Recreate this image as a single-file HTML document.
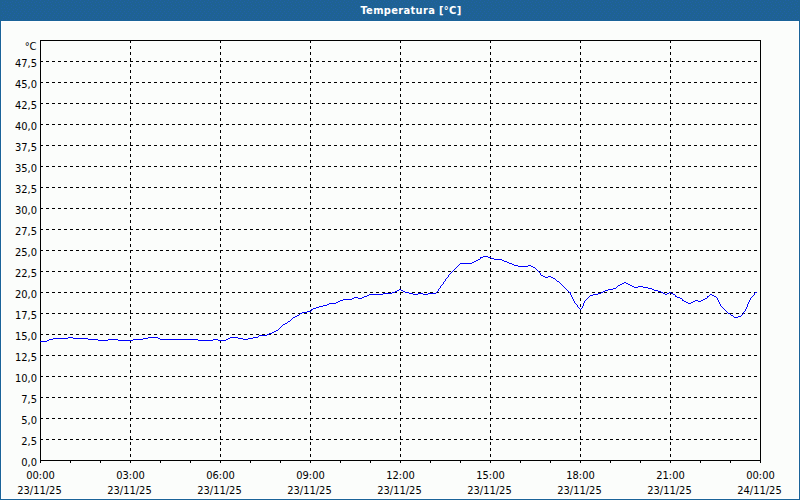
<!DOCTYPE html>
<html><head><meta charset="utf-8"><title>Temperatura</title>
<style>
html,body{margin:0;padding:0;width:800px;height:500px;overflow:hidden;background:#fbfdfb;}
#win{position:absolute;left:0;top:0;width:800px;height:500px;}
svg{position:absolute;left:0;top:0;}
</style></head><body>
<div id="win">
<svg width="800" height="500" viewBox="0 0 800 500">
<rect x="0" y="0" width="800" height="500" fill="#fbfdfb"/>
<rect x="0" y="0" width="800" height="20" fill="#1e6293"/>
<defs><pattern id="dith" x="0" y="0" width="8" height="20" patternUnits="userSpaceOnUse"><g fill="#2060aa"><rect x="0" y="0" width="1" height="1"/><rect x="4" y="1" width="1" height="1"/><rect x="2" y="2" width="1" height="1"/><rect x="7" y="2" width="1" height="1"/><rect x="3" y="4" width="1" height="1"/><rect x="0" y="5" width="1" height="1"/><rect x="5" y="5" width="1" height="1"/><rect x="3" y="7" width="1" height="1"/><rect x="7" y="8" width="1" height="1"/><rect x="1" y="9" width="1" height="1"/><rect x="5" y="9" width="1" height="1"/><rect x="0" y="11" width="1" height="1"/><rect x="4" y="11" width="1" height="1"/><rect x="2" y="13" width="1" height="1"/><rect x="6" y="13" width="1" height="1"/><rect x="1" y="15" width="1" height="1"/><rect x="5" y="15" width="1" height="1"/><rect x="0" y="17" width="1" height="1"/><rect x="4" y="17" width="1" height="1"/><rect x="2" y="19" width="1" height="1"/><rect x="6" y="19" width="1" height="1"/></g></pattern></defs>
<rect x="0" y="0" width="800" height="20" fill="url(#dith)" shape-rendering="crispEdges"/>
<rect x="0" y="0" width="9" height="20" fill="#1e6293"/><rect x="784" y="0" width="16" height="20" fill="#1e6293"/><g fill="#2060aa" shape-rendering="crispEdges"><rect x="5" y="1" width="1" height="1"/><rect x="2" y="2" width="1" height="1"/><rect x="7" y="2" width="1" height="1"/><rect x="4" y="4" width="1" height="1"/><rect x="2" y="5" width="1" height="1"/><rect x="8" y="5" width="1" height="1"/><rect x="6" y="6" width="1" height="1"/><rect x="1" y="8" width="1" height="1"/><rect x="4" y="8" width="1" height="1"/><rect x="7" y="8" width="1" height="1"/><rect x="2" y="11" width="1" height="1"/><rect x="5" y="11" width="1" height="1"/><rect x="8" y="11" width="1" height="1"/><rect x="3" y="13" width="1" height="1"/><rect x="7" y="14" width="1" height="1"/><rect x="1" y="15" width="1" height="1"/><rect x="5" y="16" width="1" height="1"/><rect x="3" y="17" width="1" height="1"/><rect x="8" y="17" width="1" height="1"/><rect x="2" y="19" width="1" height="1"/><rect x="6" y="19" width="1" height="1"/><rect x="785" y="0" width="1" height="1"/><rect x="788" y="0" width="1" height="1"/><rect x="795" y="0" width="1" height="1"/><rect x="792" y="1" width="1" height="1"/><rect x="797" y="1" width="1" height="1"/><rect x="790" y="2" width="1" height="1"/><rect x="786" y="3" width="1" height="1"/><rect x="796" y="3" width="1" height="1"/><rect x="791" y="4" width="1" height="1"/><rect x="794" y="4" width="1" height="1"/><rect x="784" y="5" width="1" height="1"/><rect x="788" y="5" width="1" height="1"/><rect x="795" y="6" width="1" height="1"/><rect x="798" y="6" width="1" height="1"/><rect x="787" y="7" width="1" height="1"/><rect x="791" y="7" width="1" height="1"/><rect x="793" y="8" width="1" height="1"/><rect x="785" y="9" width="1" height="1"/><rect x="789" y="9" width="1" height="1"/><rect x="797" y="9" width="1" height="1"/><rect x="795" y="10" width="1" height="1"/><rect x="784" y="11" width="1" height="1"/><rect x="788" y="11" width="1" height="1"/><rect x="792" y="11" width="1" height="1"/><rect x="797" y="12" width="1" height="1"/><rect x="786" y="13" width="1" height="1"/><rect x="790" y="13" width="1" height="1"/><rect x="795" y="14" width="1" height="1"/><rect x="785" y="15" width="1" height="1"/><rect x="789" y="15" width="1" height="1"/><rect x="793" y="15" width="1" height="1"/><rect x="798" y="15" width="1" height="1"/><rect x="784" y="17" width="1" height="1"/><rect x="788" y="17" width="1" height="1"/><rect x="792" y="17" width="1" height="1"/><rect x="796" y="17" width="1" height="1"/><rect x="786" y="19" width="1" height="1"/><rect x="790" y="19" width="1" height="1"/><rect x="794" y="19" width="1" height="1"/><rect x="798" y="19" width="1" height="1"/></g>
<rect x="0" y="20" width="800" height="480" fill="#1a6499"/>
<rect x="1" y="21" width="798" height="478" fill="#ffffff"/>
<rect x="2" y="22" width="796" height="476" fill="#fbfdfb"/>
<text x="411" y="14" text-anchor="middle" font-family='"DejaVu Sans", sans-serif' font-size="11" font-weight="bold" font-stretch="condensed" letter-spacing="0.33" fill="#ffffff">Temperatura [°C]</text>
<g stroke="#000" stroke-width="1" stroke-dasharray="3 3" shape-rendering="crispEdges"><line x1="40" y1="61.5" x2="760" y2="61.5"/><line x1="40" y1="82.5" x2="760" y2="82.5"/><line x1="40" y1="103.5" x2="760" y2="103.5"/><line x1="40" y1="124.5" x2="760" y2="124.5"/><line x1="40" y1="145.5" x2="760" y2="145.5"/><line x1="40" y1="166.5" x2="760" y2="166.5"/><line x1="40" y1="187.5" x2="760" y2="187.5"/><line x1="40" y1="208.5" x2="760" y2="208.5"/><line x1="40" y1="229.5" x2="760" y2="229.5"/><line x1="40" y1="250.5" x2="760" y2="250.5"/><line x1="40" y1="271.5" x2="760" y2="271.5"/><line x1="40" y1="292.5" x2="760" y2="292.5"/><line x1="40" y1="313.5" x2="760" y2="313.5"/><line x1="40" y1="334.5" x2="760" y2="334.5"/><line x1="40" y1="355.5" x2="760" y2="355.5"/><line x1="40" y1="376.5" x2="760" y2="376.5"/><line x1="40" y1="397.5" x2="760" y2="397.5"/><line x1="40" y1="418.5" x2="760" y2="418.5"/><line x1="40" y1="439.5" x2="760" y2="439.5"/><line x1="130.5" y1="40" x2="130.5" y2="460"/><line x1="220.5" y1="40" x2="220.5" y2="460"/><line x1="310.5" y1="40" x2="310.5" y2="460"/><line x1="400.5" y1="40" x2="400.5" y2="460"/><line x1="490.5" y1="40" x2="490.5" y2="460"/><line x1="580.5" y1="40" x2="580.5" y2="460"/><line x1="670.5" y1="40" x2="670.5" y2="460"/></g>
<rect x="40.5" y="40.5" width="720" height="420" fill="none" stroke="#000" stroke-width="1" shape-rendering="crispEdges"/>
<g stroke="#000" stroke-width="1" shape-rendering="crispEdges"><line x1="40.5" y1="460" x2="40.5" y2="463"/><line x1="70.5" y1="460" x2="70.5" y2="463"/><line x1="100.5" y1="460" x2="100.5" y2="463"/><line x1="130.5" y1="460" x2="130.5" y2="463"/><line x1="160.5" y1="460" x2="160.5" y2="463"/><line x1="190.5" y1="460" x2="190.5" y2="463"/><line x1="220.5" y1="460" x2="220.5" y2="463"/><line x1="250.5" y1="460" x2="250.5" y2="463"/><line x1="280.5" y1="460" x2="280.5" y2="463"/><line x1="310.5" y1="460" x2="310.5" y2="463"/><line x1="340.5" y1="460" x2="340.5" y2="463"/><line x1="370.5" y1="460" x2="370.5" y2="463"/><line x1="400.5" y1="460" x2="400.5" y2="463"/><line x1="430.5" y1="460" x2="430.5" y2="463"/><line x1="460.5" y1="460" x2="460.5" y2="463"/><line x1="490.5" y1="460" x2="490.5" y2="463"/><line x1="520.5" y1="460" x2="520.5" y2="463"/><line x1="550.5" y1="460" x2="550.5" y2="463"/><line x1="580.5" y1="460" x2="580.5" y2="463"/><line x1="610.5" y1="460" x2="610.5" y2="463"/><line x1="640.5" y1="460" x2="640.5" y2="463"/><line x1="670.5" y1="460" x2="670.5" y2="463"/><line x1="700.5" y1="460" x2="700.5" y2="463"/><line x1="730.5" y1="460" x2="730.5" y2="463"/><line x1="760.5" y1="460" x2="760.5" y2="463"/></g>
<path d="M483 256h5v1h-5zM480 257h3v1h-3zM488 257h3v1h-3zM480 258h1v1h-1zM491 258h3v1h-3zM478 259h2v1h-2zM494 259h8v1h-8zM476 260h2v1h-2zM502 260h2v1h-2zM474 261h2v1h-2zM504 261h3v1h-3zM472 262h2v1h-2zM507 262h2v1h-2zM460 263h12v1h-12zM509 263h3v1h-3zM459 264h1v1h-1zM512 264h2v1h-2zM458 265h1v1h-1zM514 265h4v1h-4zM528 265h3v1h-3zM457 266h1v1h-1zM518 266h10v1h-10zM531 266h2v1h-2zM456 267h1v1h-1zM533 267h2v1h-2zM455 268h1v1h-1zM535 268h1v1h-1zM454 269h1v1h-1zM536 269h1v1h-1zM453 270h1v1h-1zM537 270h1v1h-1zM452 271h1v1h-1zM538 271h1v1h-1zM451 272h1v1h-1zM539 272h1v1h-1zM450 273h1v1h-1zM540 273h1v1h-1zM449 274h1v1h-1zM540 274h1v1h-1zM448 275h1v1h-1zM541 275h2v1h-2zM448 276h1v1h-1zM543 276h2v1h-2zM548 276h3v1h-3zM447 277h1v1h-1zM545 277h3v1h-3zM551 277h2v1h-2zM446 278h1v1h-1zM553 278h2v1h-2zM445 279h1v1h-1zM555 279h1v1h-1zM445 280h1v1h-1zM556 280h1v1h-1zM444 281h1v1h-1zM557 281h2v1h-2zM443 282h1v1h-1zM559 282h1v1h-1zM624 282h2v1h-2zM443 283h1v1h-1zM560 283h1v1h-1zM622 283h2v1h-2zM626 283h2v1h-2zM442 284h1v1h-1zM561 284h1v1h-1zM620 284h2v1h-2zM628 284h2v1h-2zM441 285h1v1h-1zM562 285h1v1h-1zM618 285h2v1h-2zM630 285h2v1h-2zM440 286h1v1h-1zM563 286h1v1h-1zM617 286h1v1h-1zM632 286h2v1h-2zM638 286h5v1h-5zM440 287h1v1h-1zM564 287h1v1h-1zM616 287h1v1h-1zM634 287h4v1h-4zM643 287h5v1h-5zM439 288h1v1h-1zM565 288h1v1h-1zM613 288h3v1h-3zM648 288h4v1h-4zM399 289h2v1h-2zM438 289h1v1h-1zM566 289h1v1h-1zM608 289h5v1h-5zM652 289h2v1h-2zM397 290h2v1h-2zM401 290h2v1h-2zM438 290h1v1h-1zM567 290h1v1h-1zM605 290h3v1h-3zM654 290h4v1h-4zM395 291h2v1h-2zM403 291h2v1h-2zM437 291h1v1h-1zM568 291h1v1h-1zM603 291h2v1h-2zM658 291h3v1h-3zM392 292h3v1h-3zM405 292h4v1h-4zM436 292h1v1h-1zM569 292h2v1h-2zM601 292h2v1h-2zM661 292h2v1h-2zM669 292h2v1h-2zM755 292h2v1h-2zM383 293h9v1h-9zM409 293h4v1h-4zM418 293h5v1h-5zM428 293h8v1h-8zM570 293h1v1h-1zM598 293h3v1h-3zM663 293h2v1h-2zM667 293h2v1h-2zM671 293h2v1h-2zM754 293h1v1h-1zM369 294h14v1h-14zM413 294h5v1h-5zM423 294h5v1h-5zM570 294h1v1h-1zM593 294h5v1h-5zM665 294h2v1h-2zM673 294h2v1h-2zM710 294h2v1h-2zM754 294h1v1h-1zM367 295h2v1h-2zM571 295h1v1h-1zM590 295h3v1h-3zM675 295h1v1h-1zM709 295h1v1h-1zM712 295h2v1h-2zM753 295h1v1h-1zM364 296h3v1h-3zM571 296h1v1h-1zM589 296h1v1h-1zM675 296h2v1h-2zM707 296h2v1h-2zM714 296h2v1h-2zM752 296h1v1h-1zM354 297h4v1h-4zM362 297h2v1h-2zM572 297h1v1h-1zM588 297h1v1h-1zM677 297h3v1h-3zM707 297h1v1h-1zM716 297h1v1h-1zM751 297h1v1h-1zM352 298h2v1h-2zM358 298h4v1h-4zM572 298h1v1h-1zM587 298h1v1h-1zM680 298h2v1h-2zM705 298h2v1h-2zM717 298h1v1h-1zM750 298h1v1h-1zM343 299h9v1h-9zM573 299h1v1h-1zM586 299h1v1h-1zM682 299h1v1h-1zM703 299h2v1h-2zM717 299h1v1h-1zM750 299h1v1h-1zM340 300h3v1h-3zM573 300h1v1h-1zM585 300h1v1h-1zM682 300h2v1h-2zM695 300h3v1h-3zM701 300h2v1h-2zM718 300h1v1h-1zM749 300h1v1h-1zM338 301h2v1h-2zM574 301h1v1h-1zM584 301h1v1h-1zM684 301h2v1h-2zM693 301h2v1h-2zM698 301h3v1h-3zM718 301h1v1h-1zM749 301h1v1h-1zM336 302h2v1h-2zM574 302h1v1h-1zM584 302h1v1h-1zM686 302h2v1h-2zM691 302h2v1h-2zM719 302h1v1h-1zM748 302h1v1h-1zM329 303h7v1h-7zM575 303h1v1h-1zM583 303h1v1h-1zM688 303h3v1h-3zM719 303h1v1h-1zM748 303h1v1h-1zM327 304h2v1h-2zM576 304h1v1h-1zM583 304h1v1h-1zM720 304h1v1h-1zM747 304h1v1h-1zM323 305h4v1h-4zM577 305h1v1h-1zM583 305h1v1h-1zM720 305h1v1h-1zM747 305h1v1h-1zM319 306h4v1h-4zM577 306h1v1h-1zM582 306h1v1h-1zM721 306h1v1h-1zM747 306h1v1h-1zM316 307h3v1h-3zM578 307h1v1h-1zM582 307h1v1h-1zM722 307h1v1h-1zM746 307h1v1h-1zM313 308h3v1h-3zM579 308h1v1h-1zM581 308h1v1h-1zM723 308h1v1h-1zM746 308h1v1h-1zM311 309h2v1h-2zM580 309h1v1h-1zM724 309h1v1h-1zM745 309h1v1h-1zM311 310h1v1h-1zM725 310h1v1h-1zM745 310h1v1h-1zM307 311h4v1h-4zM726 311h1v1h-1zM744 311h1v1h-1zM302 312h5v1h-5zM727 312h1v1h-1zM743 312h1v1h-1zM300 313h2v1h-2zM728 313h2v1h-2zM743 313h1v1h-1zM299 314h1v1h-1zM730 314h1v1h-1zM742 314h1v1h-1zM297 315h2v1h-2zM731 315h2v1h-2zM741 315h1v1h-1zM295 316h2v1h-2zM733 316h1v1h-1zM738 316h3v1h-3zM293 317h2v1h-2zM734 317h4v1h-4zM292 318h1v1h-1zM291 319h1v1h-1zM290 320h1v1h-1zM288 321h2v1h-2zM287 322h1v1h-1zM285 323h2v1h-2zM283 324h2v1h-2zM282 325h1v1h-1zM281 326h1v1h-1zM280 327h1v1h-1zM279 328h1v1h-1zM278 329h1v1h-1zM276 330h2v1h-2zM274 331h2v1h-2zM272 332h2v1h-2zM269 333h3v1h-3zM267 334h2v1h-2zM259 335h8v1h-8zM258 336h1v1h-1zM68 337h5v1h-5zM148 337h10v1h-10zM230 337h8v1h-8zM253 337h5v1h-5zM53 338h15v1h-15zM73 338h15v1h-15zM143 338h5v1h-5zM158 338h2v1h-2zM228 338h2v1h-2zM238 338h5v1h-5zM248 338h5v1h-5zM49 339h4v1h-4zM88 339h10v1h-10zM108 339h10v1h-10zM133 339h10v1h-10zM160 339h38v1h-38zM213 339h5v1h-5zM226 339h2v1h-2zM243 339h5v1h-5zM47 340h2v1h-2zM98 340h10v1h-10zM118 340h15v1h-15zM198 340h15v1h-15zM218 340h8v1h-8zM40 341h7v1h-7z" fill="#0000ff" shape-rendering="crispEdges"/>
<g font-family='"DejaVu Sans", sans-serif' font-size="11" font-stretch="condensed" fill="#000"><text x="37" y="466" text-anchor="end">0,0</text><text x="37" y="445" text-anchor="end">2,5</text><text x="37" y="424" text-anchor="end">5,0</text><text x="37" y="403" text-anchor="end">7,5</text><text x="37" y="382" text-anchor="end">10,0</text><text x="37" y="361" text-anchor="end">12,5</text><text x="37" y="340" text-anchor="end">15,0</text><text x="37" y="319" text-anchor="end">17,5</text><text x="37" y="298" text-anchor="end">20,0</text><text x="37" y="277" text-anchor="end">22,5</text><text x="37" y="256" text-anchor="end">25,0</text><text x="37" y="235" text-anchor="end">27,5</text><text x="37" y="214" text-anchor="end">30,0</text><text x="37" y="193" text-anchor="end">32,5</text><text x="37" y="172" text-anchor="end">35,0</text><text x="37" y="151" text-anchor="end">37,5</text><text x="37" y="130" text-anchor="end">40,0</text><text x="37" y="109" text-anchor="end">42,5</text><text x="37" y="88" text-anchor="end">45,0</text><text x="37" y="67" text-anchor="end">47,5</text><text x="36.5" y="50" text-anchor="end">°C</text><text x="40.5" y="479" text-anchor="middle">00:00</text><text x="39.5" y="494" text-anchor="middle">23/11/25</text><text x="130.5" y="479" text-anchor="middle">03:00</text><text x="129.5" y="494" text-anchor="middle">23/11/25</text><text x="220.5" y="479" text-anchor="middle">06:00</text><text x="219.5" y="494" text-anchor="middle">23/11/25</text><text x="310.5" y="479" text-anchor="middle">09:00</text><text x="309.5" y="494" text-anchor="middle">23/11/25</text><text x="400.5" y="479" text-anchor="middle">12:00</text><text x="399.5" y="494" text-anchor="middle">23/11/25</text><text x="490.5" y="479" text-anchor="middle">15:00</text><text x="489.5" y="494" text-anchor="middle">23/11/25</text><text x="580.5" y="479" text-anchor="middle">18:00</text><text x="579.5" y="494" text-anchor="middle">23/11/25</text><text x="670.5" y="479" text-anchor="middle">21:00</text><text x="669.5" y="494" text-anchor="middle">23/11/25</text><text x="760.5" y="479" text-anchor="middle">00:00</text><text x="759.5" y="494" text-anchor="middle">24/11/25</text></g>
</svg>
</div>
</body></html>
